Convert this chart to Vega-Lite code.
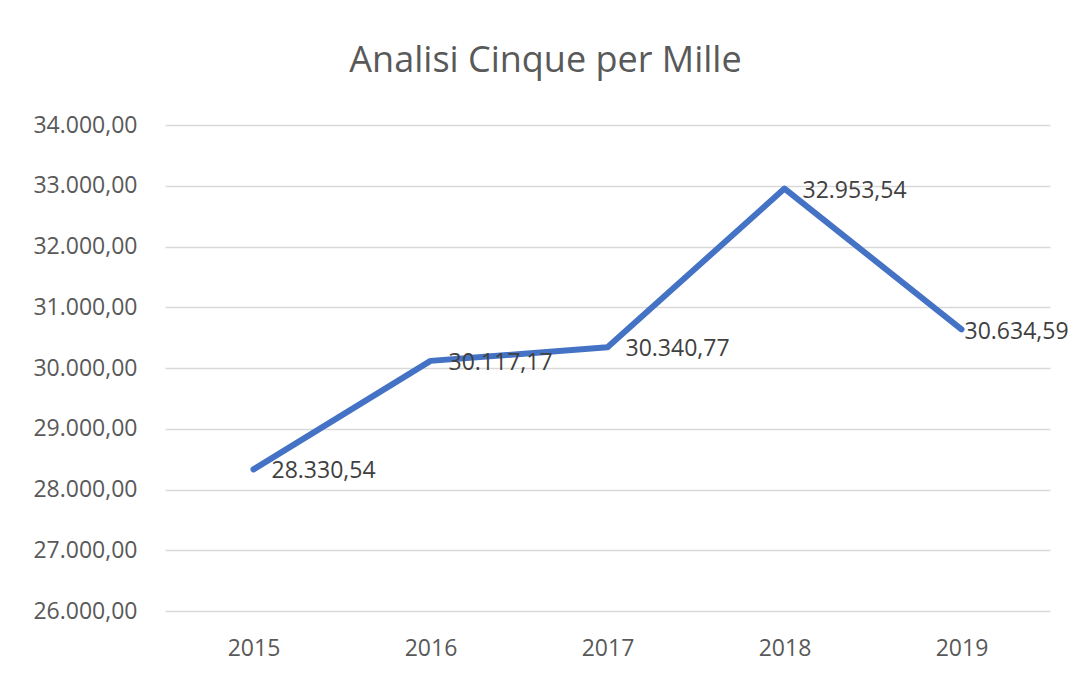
{
  "$schema": "https://vega.github.io/schema/vega-lite/v6.json",
  "width": 885,
  "height": 486,
  "autosize": {"type": "none"},
  "padding": {"left": 165, "top": 125, "right": 29, "bottom": 68},
  "background": "white",
  "config": {
    "locale": {"number": {"decimal": ",", "thousands": ".", "grouping": [3], "currency": ["€", ""]}},
    "view": {"stroke": null},
    "font": "Open Sans"
  },
  "title": {
    "text": "Analisi Cinque per Mille",
    "fontSize": 36,
    "fontWeight": "normal",
    "color": "#595959",
    "font": "Open Sans",
    "dx": -62,
    "offset": 34
  },
  "data": {
    "values": [
      {"anno": "2015", "valore": 28330.54},
      {"anno": "2016", "valore": 30117.17},
      {"anno": "2017", "valore": 30340.77},
      {"anno": "2018", "valore": 32953.54},
      {"anno": "2019", "valore": 30634.59}
    ]
  },
  "encoding": {
    "x": {
      "field": "anno",
      "type": "ordinal",
      "title": null,
      "scale": {"paddingInner": 0, "paddingOuter": 0.5},
      "axis": {
        "labelAngle": 0,
        "labelFontSize": 23,
        "labelColor": "#595959",
        "domain": false,
        "ticks": false,
        "labelPadding": 26,
        "grid": false
      }
    },
    "y": {
      "field": "valore",
      "type": "quantitative",
      "title": null,
      "scale": {"domain": [26000, 34000], "nice": false, "zero": false},
      "axis": {
        "format": ",.2f",
        "values": [26000, 27000, 28000, 29000, 30000, 31000, 32000, 33000, 34000],
        "labelOverlap": false,
        "labelFontSize": 23,
        "labelColor": "#595959",
        "domain": false,
        "ticks": false,
        "labelPadding": 28,
        "gridColor": "#d9d9d9",
        "gridWidth": 1.5
      }
    }
  },
  "layer": [
    {
      "mark": {"type": "line", "color": "#4472C4", "strokeWidth": 6, "strokeCap": "round", "strokeJoin": "round"}
    },
    {
      "transform": [{"filter": "datum.anno != '2019'"}],
      "mark": {"type": "text", "align": "left", "baseline": "middle", "dx": 18, "dy": 2, "fontSize": 23, "color": "#404040"},
      "encoding": {
        "text": {"field": "valore", "type": "quantitative", "format": ",.2f"}
      }
    },
    {
      "transform": [{"filter": "datum.anno == '2019'"}],
      "mark": {"type": "text", "align": "left", "baseline": "middle", "dx": 3, "dy": 3, "fontSize": 23, "color": "#404040"},
      "encoding": {
        "text": {"field": "valore", "type": "quantitative", "format": ",.2f"}
      }
    }
  ]
}
